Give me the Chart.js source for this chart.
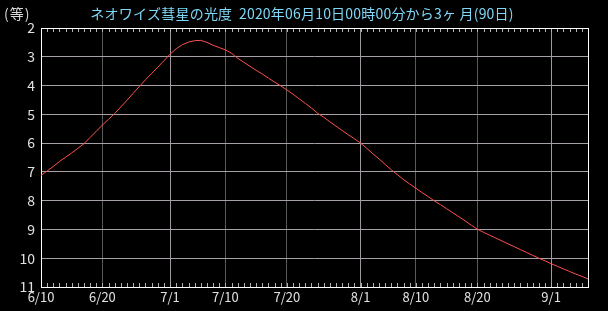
<!DOCTYPE html>
<html>
<head>
<meta charset="utf-8">
<script src="https://cdn.jsdelivr.net/npm/chart.js@4.4.1/dist/chart.umd.min.js"></script>
<style>
  html, body { margin: 0; padding: 0; background: #000; }
  #wrap { width: 608px; height: 311px; }
</style>
</head>
<body>
<div id="wrap"><canvas id="chart1"></canvas></div>
<script>
// days since 2020/06/10 00:00 and the comet's magnitude each day
var magnitudes = [
    7.12, 6.97, 6.81, 6.64, 6.49, 6.34, 6.18, 6.02, 5.80, 5.59,
    5.37, 5.17, 4.97, 4.74, 4.51, 4.27, 4.03, 3.80, 3.58, 3.36,
    3.14, 2.91, 2.72, 2.58, 2.49, 2.44, 2.43, 2.50, 2.60, 2.68,
    2.76, 2.88, 3.05, 3.19, 3.33, 3.47, 3.60, 3.74, 3.88, 4.01,
    4.15, 4.30, 4.46, 4.62, 4.78, 4.96, 5.10, 5.26, 5.41, 5.56,
    5.71, 5.85, 6.00, 6.18, 6.37, 6.55, 6.74, 6.93, 7.10, 7.27,
    7.42, 7.57, 7.72, 7.86, 8.01, 8.14, 8.28, 8.42, 8.56, 8.70,
    8.85, 8.99, 9.10, 9.20, 9.30, 9.40, 9.50, 9.60, 9.70, 9.80,
    9.90, 10.00, 10.09, 10.19, 10.28, 10.37, 10.46, 10.55, 10.63, 10.72
];
var tickDays = [0, 10, 21, 30, 40, 52, 61, 71, 83];
var tickLabels = ['6/10', '6/20', '7/1', '7/10', '7/20', '8/1', '8/10', '8/20', '9/1'];
var monthStartDays = [21, 52, 83];
var yTicks = [2, 3, 4, 5, 6, 7, 8, 9, 10, 11];

var titleText = 'ネオワイズ彗星の光度  2020年06月10日00時00分から3ヶ 月(90日)';
var unitText = '(等)';

var points = magnitudes.map((m, i) => ({ x: i, y: m }));

var decor = {
    id: 'decor',
    beforeDraw: (chart) => {
        var c = chart.ctx;
        c.save();
        c.fillStyle = '#000';
        c.fillRect(0, 0, chart.width, chart.height);
        c.restore();
    },
    beforeDatasetsDraw: (chart) => {
        var c = chart.ctx;
        var a = chart.chartArea;
        var xs = chart.scales.x;
        c.save();
        // daily minor ticks on top and bottom edges
        c.strokeStyle = '#b0b0b0';
        c.lineWidth = 1;
        c.beginPath();
        for (var d = 1; d < magnitudes.length; d++) {
            var px = Math.round(xs.getPixelForValue(d)) + 0.5;
            c.moveTo(px, a.top);
            c.lineTo(px, a.top + 4);
            c.moveTo(px, a.bottom);
            c.lineTo(px, a.bottom - 4);
        }
        c.stroke();
        // frame
        c.strokeStyle = '#ffffff';
        c.strokeRect(Math.round(a.left) + 0.5, Math.round(a.top) + 0.5,
            Math.round(a.right - a.left), Math.round(a.bottom - a.top));
        c.restore();
    },
    afterDraw: (chart) => {
        var c = chart.ctx;
        c.save();
        c.font = '14px "Noto Sans CJK JP"';
        c.textBaseline = 'middle';
        c.fillStyle = '#7fd8f8';
        c.textAlign = 'center';
        c.letterSpacing = '0.2px';
        c.fillText(titleText, 302, 14);
        c.fillStyle = '#d8d8d8';
        c.textAlign = 'left';
        c.letterSpacing = '1px';
        c.fillText(unitText, 4, 14);
        c.restore();
    }
};

var ctx1 = document.getElementById('chart1').getContext('2d');
var chart1 = new Chart(ctx1, {
    type: 'line',
    data: {
        datasets: [{
            data: points,
            borderColor: '#ff5050',
            borderWidth: 1,
            pointRadius: 0,
            tension: 0,
            fill: false
        }]
    },
    options: {
        responsive: true,
        maintainAspectRatio: false,
        animation: false,
        layout: { padding: { top: 28, right: 20, left: 0, bottom: 0 } },
        plugins: {
            legend: { display: false },
            title: { display: false },
            tooltip: { enabled: false }
        },
        scales: {
            x: {
                type: 'linear',
                min: 0,
                max: magnitudes.length - 1,
                afterBuildTicks: (s) => { s.ticks = tickDays.map(v => ({ value: v })); },
                afterFit: (s) => { s.height = 24; },
                ticks: {
                    autoSkip: false,
                    maxRotation: 0,
                    padding: 2,
                    color: '#e0e0e0',
                    font: { family: '"Noto Sans CJK JP"', size: 13 },
                    callback: (v) => tickLabels[tickDays.indexOf(v)]
                },
                grid: {
                    drawTicks: false,
                    lineWidth: 1,
                    color: (g) => monthStartDays.indexOf(g.tick.value) >= 0 ? '#a098a0' : '#5a5a5a'
                },
                border: { display: false }
            },
            y: {
                reverse: true,
                min: 2,
                max: 11,
                afterBuildTicks: (s) => { s.ticks = yTicks.map(v => ({ value: v })); },
                afterFit: (s) => { s.width = 41; },
                ticks: {
                    padding: 6,
                    color: '#e0e0e0',
                    font: { family: '"Noto Sans CJK JP"', size: 14 }
                },
                grid: {
                    drawTicks: false,
                    lineWidth: 1,
                    color: '#a8a0a8'
                },
                border: { display: false }
            }
        }
    },
    plugins: [decor]
});
</script>
</body>
</html>
